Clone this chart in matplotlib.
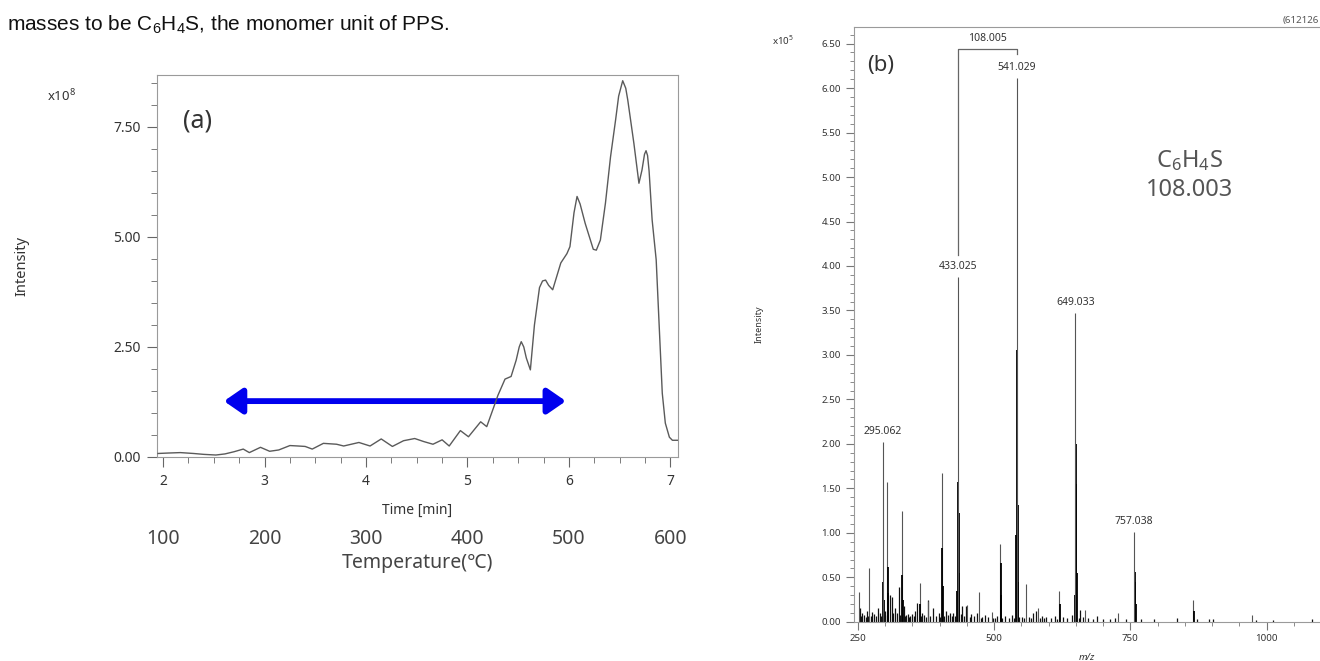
import numpy as np
import matplotlib.pyplot as plt
from matplotlib.ticker import MultipleLocator, FormatStrFormatter

plt.rcParams['font.family'] = ['Noto Sans', 'DejaVu Sans']
plt.rcParams['mathtext.fontset'] = 'custom'
plt.rcParams['mathtext.rm'] = 'Noto Sans'

# ---- panel (a): total ion chromatogram ----
time_min = [1.95, 2.05, 2.17, 2.30, 2.40, 2.52, 2.61, 2.70, 2.79, 2.85, 2.96, 3.05,
            3.14, 3.25, 3.33, 3.40, 3.47, 3.58, 3.71, 3.78, 3.93, 4.04, 4.15, 4.26,
            4.37, 4.48, 4.57, 4.66, 4.75, 4.82, 4.93, 5.01, 5.13, 5.19, 5.26, 5.30,
            5.37, 5.43, 5.48, 5.51, 5.53, 5.555, 5.58, 5.62, 5.66, 5.71, 5.74, 5.77,
            5.80, 5.84, 5.92, 5.98, 6.01, 6.05, 6.08, 6.11, 6.16, 6.24, 6.27, 6.31,
            6.36, 6.41, 6.46, 6.49, 6.53, 6.56, 6.58, 6.64, 6.69, 6.72, 6.745, 6.76,
            6.775, 6.79, 6.82, 6.86, 6.89, 6.92, 6.95, 6.99, 7.02, 7.075]
intensity_a = [0.08, 0.09, 0.10, 0.08, 0.06, 0.045, 0.07, 0.12, 0.18, 0.10, 0.22, 0.13,
               0.16, 0.26, 0.25, 0.24, 0.18, 0.31, 0.29, 0.25, 0.33, 0.25, 0.41, 0.24,
               0.37, 0.42, 0.35, 0.29, 0.39, 0.25, 0.60, 0.46, 0.80, 0.69, 1.14, 1.40,
               1.77, 1.83, 2.20, 2.50, 2.62, 2.50, 2.25, 1.98, 3.00, 3.85, 4.00, 4.02,
               3.90, 3.80, 4.41, 4.62, 4.78, 5.55, 5.92, 5.75, 5.31, 4.72, 4.70, 4.93,
               5.77, 6.82, 7.66, 8.20, 8.55, 8.38, 8.11, 7.13, 6.22, 6.52, 6.88, 6.96,
               6.85, 6.50, 5.39, 4.48, 2.96, 1.45, 0.77, 0.45, 0.38, 0.38]
arrow_span = [2.60, 5.97]
arrow_level = 1.27
temp_ticks = [100, 200, 300, 400, 500, 600]

# ---- panel (b): mass spectrum (intensity x10^5) ----
label_mz = [295.062, 433.025, 541.029, 649.033, 757.038]
label_int = [2.02, 3.88, 6.11, 3.47, 1.01]
other_mz = [251, 271, 303.5, 330, 363, 378.5, 404, 451, 472, 495.5, 511, 557.6,
            581, 619, 665.8, 728, 865.5, 973.7]
other_int = [0.34, 0.60, 1.57, 1.24, 0.44, 0.23, 1.67, 0.19, 0.33, 0.11, 0.87, 0.42,
             0.15, 0.35, 0.13, 0.10, 0.245, 0.076]
cluster_mz = [296, 297, 305, 306, 331, 332, 364, 405, 406, 432, 434, 435, 436,
              512, 513, 540, 542, 543, 544, 620, 648, 650, 651, 652, 758, 759, 760, 866]
cluster_int = [0.45, 0.25, 0.62, 0.32, 0.53, 0.25, 0.20, 0.83, 0.40, 0.35, 1.57, 1.22, 0.55,
               0.66, 0.30, 0.98, 3.05, 1.31, 0.45, 0.20, 0.30, 2.00, 1.55, 0.55, 0.56, 0.45, 0.20, 0.12]
grass_mz = [253, 256, 258, 262, 264, 266, 268, 274, 276, 280, 283, 286, 290, 293, 299, 300,
            309, 312, 315, 318, 321, 325, 327, 334, 336, 338, 341, 344, 346, 350, 353, 355,
            359, 366, 368, 372, 375, 379, 383, 388, 393, 398, 401, 408, 411, 415, 419, 422,
            425, 428, 439, 441, 444, 448, 455, 458, 463, 468, 475, 478, 484, 489, 498, 501,
            506, 515, 520, 527, 532, 536, 546, 551, 555, 563, 567, 571, 577, 584, 588, 592,
            596, 604, 612, 616, 626, 634, 642, 655, 658, 663, 673, 682, 688, 700, 713,
            722, 742, 770, 794, 835, 873, 895, 902, 981, 1012, 1083]
grass_int = [0.16, 0.06, 0.10, 0.08, 0.05, 0.12, 0.06, 0.07, 0.11, 0.09, 0.06, 0.15, 0.10,
             0.07, 0.08, 0.12, 0.30, 0.28, 0.10, 0.16, 0.10, 0.39, 0.08, 0.18, 0.06, 0.08,
             0.09, 0.05, 0.07, 0.09, 0.06, 0.12, 0.21, 0.07, 0.10, 0.08, 0.05, 0.24, 0.06,
             0.15, 0.07, 0.10, 0.05, 0.06, 0.12, 0.08, 0.10, 0.06, 0.10, 0.07, 0.09, 0.18,
             0.06, 0.18, 0.05, 0.09, 0.06, 0.10, 0.04, 0.05, 0.08, 0.05, 0.04, 0.04, 0.06,
             0.04, 0.06, 0.04, 0.08, 0.04, 0.05, 0.05, 0.04, 0.05, 0.04, 0.10, 0.12, 0.04,
             0.07, 0.04, 0.05, 0.04, 0.06, 0.03, 0.05, 0.04, 0.08, 0.04, 0.13, 0.05, 0.04,
             0.03, 0.06, 0.03, 0.03, 0.04, 0.03, 0.03, 0.03, 0.04, 0.03, 0.03, 0.03, 0.02,
             0.02, 0.03]
bracket_left, bracket_right, bracket_level = 433.025, 541.029, 6.44

fig = plt.figure(figsize=(13.2, 6.61), dpi=100)
fig.text(0.005, 0.962, r'masses to be C$\mathregular{_6}$H$\mathregular{_4}$S, the monomer unit of PPS.',
         fontsize=15, family='Liberation Sans', color='#111', va='center')

grey = '#9a9a9a'
txt = '#333333'

# ---------- (a) ----------
ax = fig.add_axes([157 / 1320, 1 - 457 / 661, 521 / 1320, 382 / 661])
ax.plot(time_min, intensity_a, color='#5a5a5a', lw=1.0, zorder=3)
ax.annotate('', xy=(arrow_span[1], arrow_level), xytext=(arrow_span[0], arrow_level),
            arrowprops=dict(arrowstyle='<|-|>,head_length=0.55,head_width=0.38',
                            color='#0000ee', lw=4.2, mutation_scale=20, shrinkA=0, shrinkB=0),
            zorder=2)
ax.set_xlim(1.94, 7.075)
ax.set_ylim(0, 8.68)
ax.xaxis.set_major_locator(MultipleLocator(1))
ax.xaxis.set_minor_locator(MultipleLocator(0.25))
ax.yaxis.set_major_locator(MultipleLocator(2.5))
ax.yaxis.set_minor_locator(MultipleLocator(0.5))
ax.yaxis.set_major_formatter(FormatStrFormatter('%.2f'))
for s in ax.spines.values():
    s.set_color(grey)
ax.tick_params(which='major', length=7, color='#666', labelsize=10, labelcolor=txt, pad=5)
ax.tick_params(which='minor', length=4, color='#666')
ax.set_xlabel('Time [min]', fontsize=10, color=txt, labelpad=10)
ax.set_ylabel('Intensity', fontsize=10.5, color=txt, labelpad=60)
ax.text(-0.211, 0.93, r'x10$^{8}$', transform=ax.transAxes, fontsize=9.5, color=txt)
ax.text(0.05, 0.88, '(a)', transform=ax.transAxes, fontsize=18, color=txt, va='center')

sec = ax.secondary_xaxis(-0.175, functions=(lambda t: 100 * (t - 1), lambda T: T / 100 + 1))
sec.set_xticks(temp_ticks)
sec.tick_params(length=0, labelsize=14, labelcolor='#444')
sec.spines['bottom'].set_visible(False)
sec.set_xlabel('Temperature(℃)', fontsize=14, color='#444', labelpad=3)

# ---------- (b) ----------
bx = fig.add_axes([853.6 / 1320, 1 - 621.8 / 661, (1320 - 853.6) / 1320, 595.1 / 661])
bx.vlines(grass_mz, 0, grass_int, color='#111', lw=0.9)
bx.vlines(other_mz, 0, other_int, color='#555', lw=0.8)
bx.vlines(cluster_mz, 0, cluster_int, color='#000', lw=1.3)
bx.vlines(label_mz, 0, label_int, color='#555', lw=0.8)
for mz, h in zip(label_mz, label_int):
    bx.annotate(f'{mz:.3f}', xy=(mz, h), xytext=(0, 7.5), textcoords='offset points',
                ha='center', va='center', fontsize=7.5, color=txt)
bx.plot([bracket_left, bracket_left, bracket_right, bracket_right],
        [4.12, bracket_level, bracket_level, 6.38], color='#666', lw=0.9)
bx.text((bracket_left + bracket_right) / 2, bracket_level + 0.12, '108.005',
        ha='center', va='center', fontsize=7.5, color=txt)
bx.set_xlim(242, 1098)
bx.set_ylim(0, 6.69)
bx.xaxis.set_major_locator(MultipleLocator(250))
bx.xaxis.set_minor_locator(MultipleLocator(50))
bx.yaxis.set_major_locator(MultipleLocator(0.5))
bx.yaxis.set_minor_locator(MultipleLocator(0.1))
bx.yaxis.set_major_formatter(FormatStrFormatter('%.2f'))
bx.spines['right'].set_visible(False)
for s in ['left', 'bottom', 'top']:
    bx.spines[s].set_color(grey)
bx.tick_params(which='major', length=6, color='#777', labelsize=7, labelcolor=txt, pad=3)
bx.tick_params(which='minor', length=3, color='#777')
bx.set_ylabel('Intensity', fontsize=6.5, color=txt, labelpad=42)
bx.set_xlabel('m/z', fontsize=7, style='italic', color=txt, labelpad=7)
bx.text(-0.175, 0.97, r'x10$^{5}$', transform=bx.transAxes, fontsize=7, color=txt)
bx.text(0.03, 0.935, '(b)', transform=bx.transAxes, fontsize=16, color=txt, va='center')
bx.text(0.72, 0.775, r'C$\mathregular{_6}$H$\mathregular{_4}$S', transform=bx.transAxes,
        fontsize=17, color='#555', ha='center', va='center')
bx.text(0.72, 0.725, '108.003', transform=bx.transAxes, fontsize=17, color='#555',
        ha='center', va='center')
fig.text(1283 / 1320, 1 - 20 / 661, '(612126', fontsize=7, color='#555', va='center')

fig.savefig('out.png', dpi=100)
